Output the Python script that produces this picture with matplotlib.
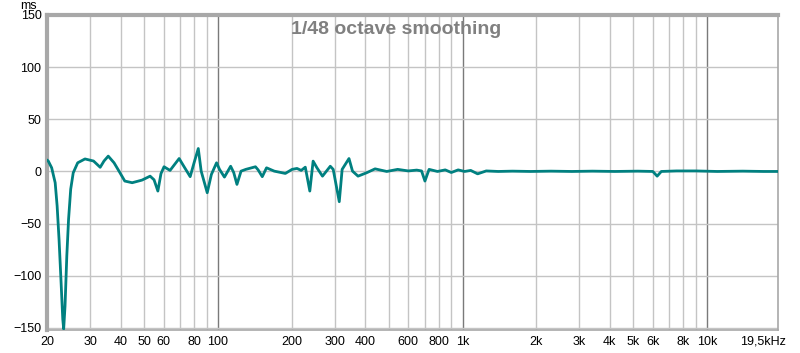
import numpy as np
import matplotlib.pyplot as plt
from matplotlib.transforms import ScaledTranslation

# --- data (group delay, ms) ---
freq_hz = [20.0, 20.25, 20.9, 21.6, 22.0, 22.4, 22.8, 23.2, 23.4, 23.7, 24.1, 24.5, 25.0,
           25.6, 26.7, 28.6, 31.0, 33.0, 34.2, 35.6, 37.6, 39.4, 41.6, 44.6, 48.9,
           52.8, 54.8, 56.8, 58.5, 60.2, 63.7, 69.4, 72.5, 77.0, 79.8, 83.1, 85.4,
           90.4, 94.0, 98.7, 101.5, 106.3, 112.7, 116.0, 119.6, 124.3, 130.0, 142.4,
           146.0, 151.8, 158.0, 170.0, 188.6, 201.0, 210.5, 219.0, 227.6, 237.5, 245.0,
           254.0, 267.6, 288.0, 296.0, 313.4, 322.0, 343.4, 355.0, 374.0, 405.0, 439.0,
           490.0, 543.0, 600.0, 650.0, 680.0, 702.0, 730.0, 790.0, 850.0, 900.0, 960.0,
           1020.0, 1080.0, 1153.0, 1250.0, 1400.0, 1600.0, 1900.0, 2300.0, 2800.0,
           3400.0, 4200.0, 5200.0, 6000.0, 6250.0, 6500.0, 7500.0, 9000.0, 11000.0,
           14000.0, 17000.0, 19500.0]
delay_ms = [11.0, 9.9, 3.5, -10.8, -33.0, -65.0, -103.0, -141.5, -151.0, -129.0, -81.0,
            -46.0, -17.0, -1.3, 8.3, 12.0, 10.0, 4.0, 10.0, 14.7, 8.3, 0.3, -9.2, -10.8,
            -8.3, -4.5, -8.0, -18.8, -2.0, 4.5, 1.0, 12.4, 5.0, -5.0, 8.0, 22.0, 0.3,
            -20.4, -2.9, 8.3, 2.0, -5.4, 5.0, -1.0, -12.4, 0.3, 2.0, 4.5,
            1.5, -5.0, 3.5, 0.3, -1.9, 2.0, 2.9, 1.0, 4.1, -18.8, 9.9,
            3.5, -4.5, 5.0, 2.0, -29.0, 2.0, 12.4, 0.3, -4.5, -1.3, 2.5,
            0.0, 2.0, 0.5, 1.3, 0.5, -9.2, 2.0, 0.0, 1.5, -1.0, 1.5,
            0.0, 1.0, -2.3, 0.5, 0.0, 0.3, 0.0, 0.3, 0.0,
            0.3, 0.0, 0.3, 0.0, -4.5, 0.0, 0.5, 0.5, 0.0,
            0.3, 0.0, 0.0]

xtick_vals = [20, 30, 40, 50, 60, 80, 100, 200, 300, 400, 600, 800, 1000, 2000,
              3000, 4000, 5000, 6000, 8000, 10000, 19500]
xtick_text = ['20', '30', '40', '50', '60', '80', '100', '200', '300', '400', '600',
              '800', '1k', '2k', '3k', '4k', '5k', '6k', '8k', '10k', '19,5kHz']
ytick_vals = [-150, -100, -50, 0, 50, 100, 150]

plt.rcParams['font.family'] = ['Liberation Sans', 'DejaVu Sans']

fig = plt.figure(figsize=(8, 3.53), dpi=100)
ax = fig.add_axes([47 / 800, 1 - 330 / 353, 731 / 800, 315 / 353])

ax.set_xscale('log')
ax.set_xlim(20, 19500)
ax.set_ylim(-152, 150)

# grid: light minor lines, darker decade lines
minor_lines = [f * d for d in (10, 100, 1000) for f in range(2, 10)]
for f in minor_lines:
    if 20 < f < 19500:
        ax.axvline(f, color='#c4c4c4', lw=1, zorder=0)
for f in (100, 1000, 10000):
    ax.axvline(f, color='#7a7a7a', lw=1, zorder=0)
for v in ytick_vals:
    ax.axhline(v, color='#c4c4c4', lw=1, zorder=0)

ax.plot(freq_hz, delay_ms, color='#008080', lw=2, zorder=3,
        solid_joinstyle='round', solid_capstyle='round')

ax.set_xticks(xtick_vals)
ax.set_xticklabels(xtick_text)
ax.xaxis.set_minor_locator(plt.NullLocator())
ax.set_yticks(ytick_vals)
ax.tick_params(length=0, labelsize=9, colors='black', pad=4)
last = ax.get_xticklabels()[-1]
last.set_transform(last.get_transform() + ScaledTranslation(-11 / 72, 0, fig.dpi_scale_trans))

for s in ax.spines.values():
    s.set_color('#a8a8a8')
    s.set_linewidth(1.2)
ax.spines['left'].set_linewidth(3)
ax.spines['top'].set_linewidth(3)

fig.text(28 / 800, 1 - 6 / 353, 'ms', fontsize=9, ha='center', va='center')
ax.text(0.478, 0.955, '1/48 octave smoothing', transform=ax.transAxes,
        ha='center', va='center', fontsize=14, fontweight='bold', color='#808080')

fig.savefig('out.png', dpi=100)
